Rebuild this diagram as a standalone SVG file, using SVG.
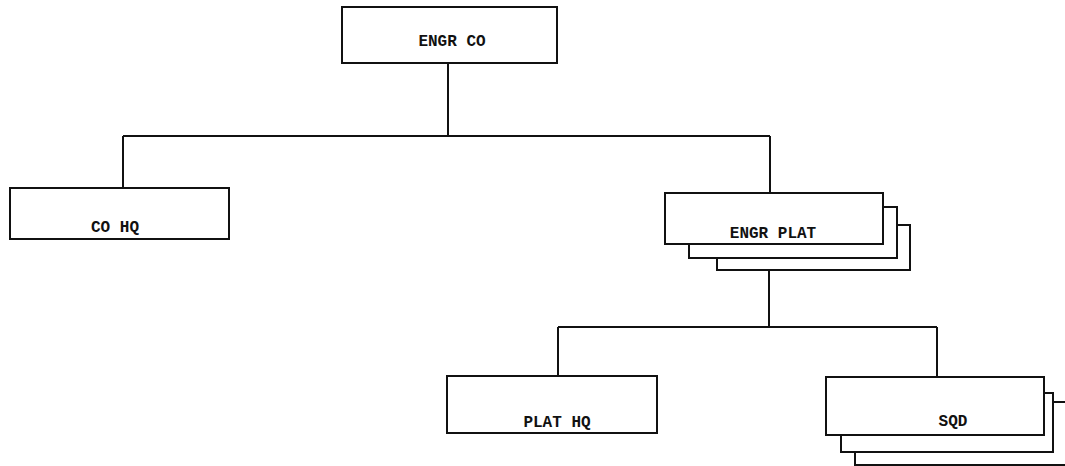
<svg xmlns="http://www.w3.org/2000/svg" width="1065" height="466" viewBox="0 0 1065 466">
<style>
.box{fill:#fff;stroke:#111;stroke-width:2}
.ln{fill:none;stroke:#111;stroke-width:2}
text{font-family:"Liberation Mono","Courier New",monospace;font-weight:bold;font-size:16px;fill:#111;text-anchor:middle}
</style>
<rect width="1065" height="466" fill="#fff"/>
<g id="connectors">
<path class="ln" d="M448 63V136M123 136H770M123 136V188M770 136V193"/>
<path class="ln" d="M769 270V327M558 327H937M558 327V376M937 327V377"/>
</g>
<g id="engr-co">
<rect class="box" x="342" y="7" width="215" height="56"/>
<text x="452" y="46">ENGR CO</text>
</g>
<g id="co-hq">
<rect class="box" x="10" y="188" width="219" height="51"/>
<text x="115" y="232">CO HQ</text>
</g>
<g id="engr-plat">
<rect class="box" x="717" y="225" width="193" height="45"/>
<rect class="box" x="689" y="207" width="208" height="51"/>
<rect class="box" x="665" y="193" width="218" height="51"/>
<text x="773" y="238">ENGR PLAT</text>
</g>
<g id="plat-hq">
<rect class="box" x="447" y="376" width="210" height="57"/>
<text x="557" y="427">PLAT HQ</text>
</g>
<g id="sqd">
<rect class="box" x="855" y="402" width="220" height="63"/>
<rect class="box" x="841" y="393" width="212" height="59"/>
<rect class="box" x="826" y="377" width="218" height="58"/>
<text x="953" y="426">SQD</text>
</g>
</svg>
